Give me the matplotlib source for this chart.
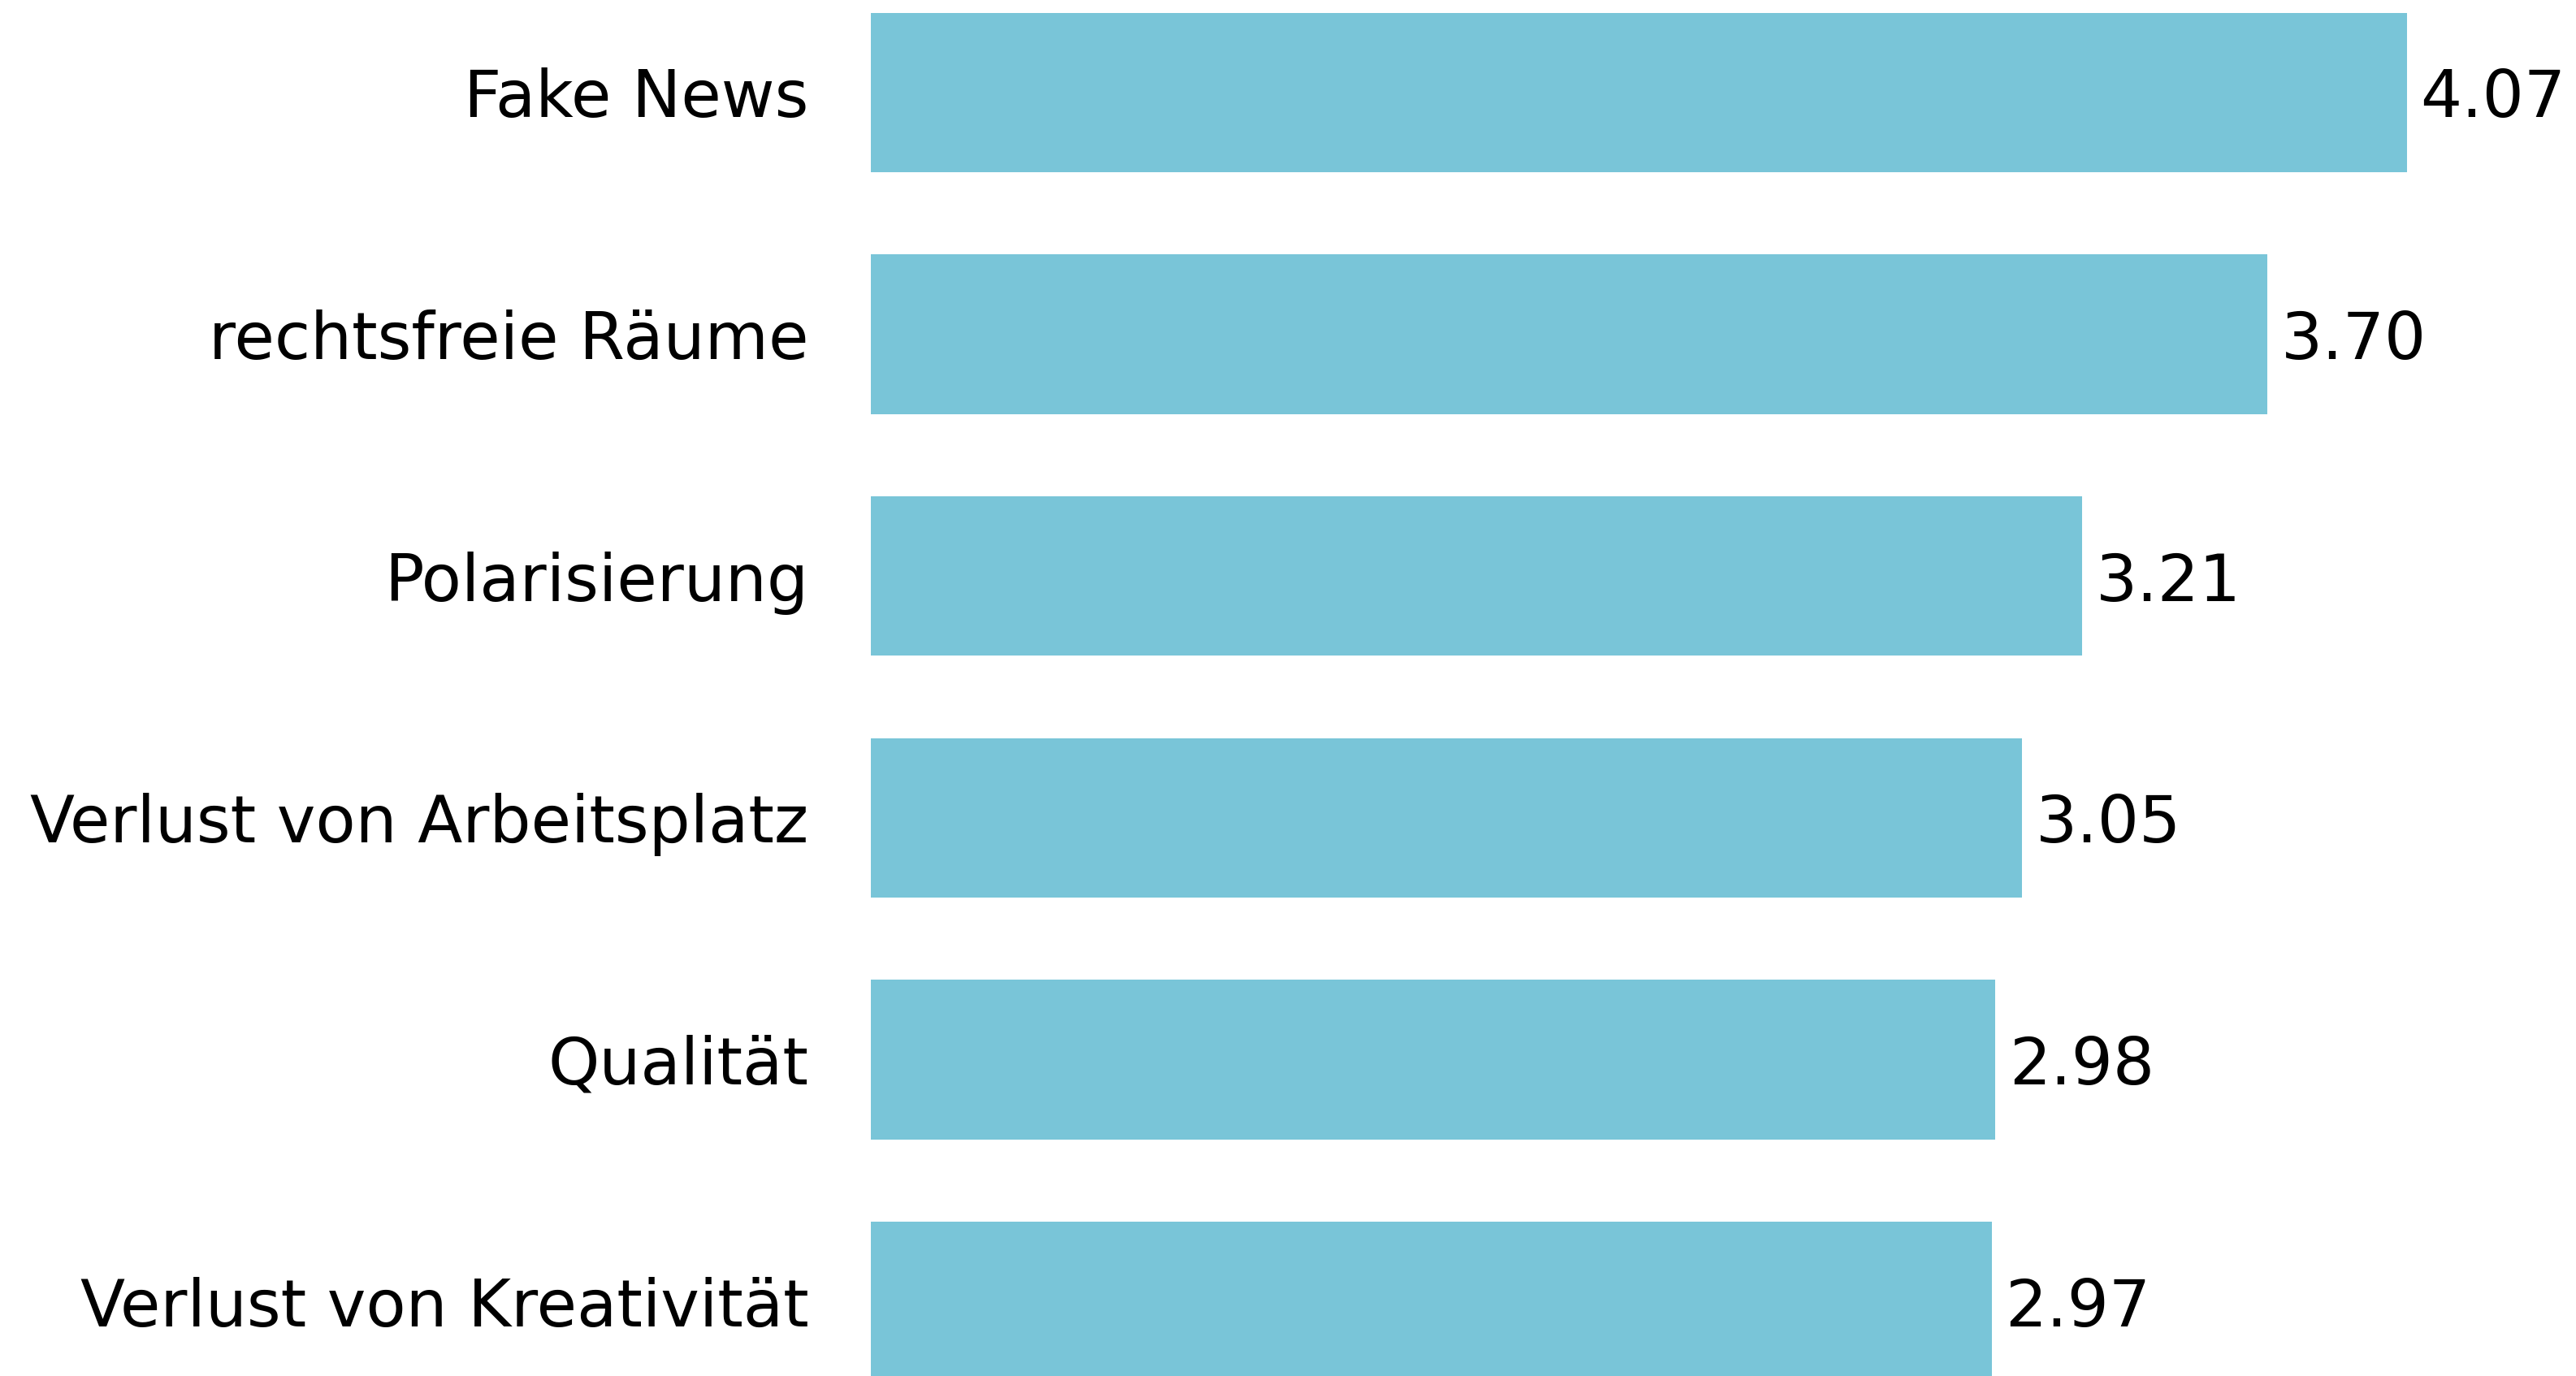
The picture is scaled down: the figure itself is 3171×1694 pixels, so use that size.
from matplotlib import pyplot as plt
import numpy as np

# data
categories = ['Fake News', 'rechtsfreie Räume', 'Polarisierung',
              'Verlust von Arbeitsplatz', 'Qualität', 'Verlust von Kreativität']
values = [4.07, 3.70, 3.21, 3.05, 2.98, 2.97]

plt.rcParams['font.family'] = ['DejaVu Sans']

fig = plt.figure(figsize=(31.71, 16.94), dpi=100)
ax = fig.add_axes([1072 / 3171, 0, 1 - 1072 / 3171, 1])

y = np.arange(len(categories))
bars = ax.barh(y, values, height=0.66, color='#79C5D8')

ax.set_xlim(0, 4.518)
ax.set_ylim(5.309, -0.383)

ax.set_yticks(y)
ax.set_yticklabels(categories, fontsize=58)
ax.tick_params(axis='y', length=0, pad=55)
ax.set_xticks([])
for s in ax.spines.values():
    s.set_visible(False)

texts = ax.bar_label(bars, labels=[f'{v:.2f}' for v in values], padding=12,
                     fontsize=58)
for t in texts:
    t.set_verticalalignment('center_baseline')   # digits sit a bit lower, like the original

fig.savefig('out.png', dpi=100)
